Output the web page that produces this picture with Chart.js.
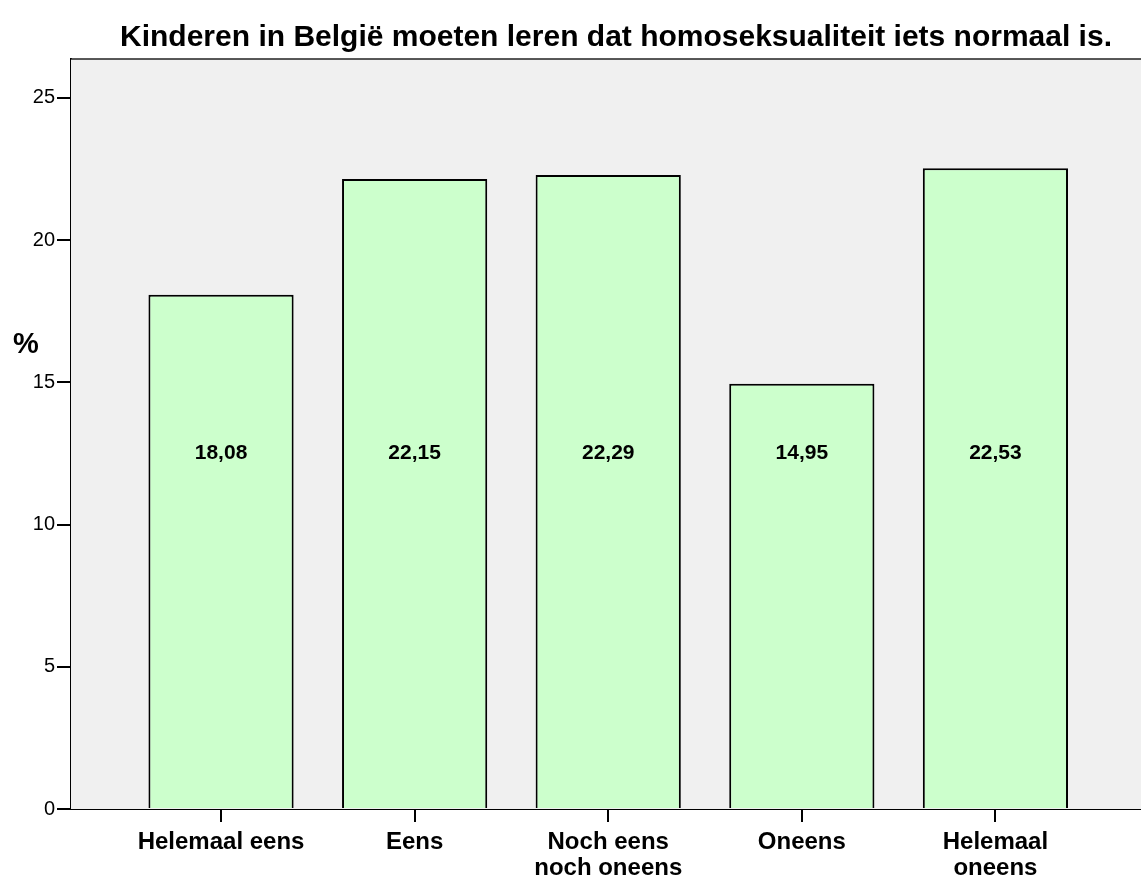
<!DOCTYPE html>
<html>
<head>
<meta charset="utf-8">
<script src="https://cdn.jsdelivr.net/npm/chart.js@4/dist/chart.umd.min.js"></script>
<style>
  html, body { margin: 0; padding: 0; background: #fff; }
  #wrap { width: 1141px; height: 878px; position: relative; }
</style>
</head>
<body>
<div id="wrap"><canvas id="myChart"></canvas></div>
<script>
const chartTitle = 'Kinderen in België moeten leren dat homoseksualiteit iets normaal is.';
const categories = [
  ['Helemaal eens'],
  ['Eens'],
  ['Noch eens', 'noch oneens'],
  ['Oneens'],
  ['Helemaal', 'oneens']
];
const percents = [18.08, 22.15, 22.29, 14.95, 22.53];
const valueLabels = ['18,08', '22,15', '22,29', '14,95', '22,53'];
const yTicks = [0, 5, 10, 15, 20, 25];

const FONT = 'Arial, "Liberation Sans", Helvetica, sans-serif';

// plot background, top border, title, % label and bar value labels
const extras = {
  id: 'extras',
  beforeDatasetsDraw(chart) {
    const { ctx, chartArea: a } = chart;
    ctx.save();
    ctx.fillStyle = '#f0f0f0';
    ctx.fillRect(a.left, a.top, a.right - a.left, a.bottom - a.top);
    ctx.restore();
  },
  afterDraw(chart) {
    const { ctx, chartArea: a } = chart;
    const xs = chart.scales.x, ys = chart.scales.y;
    ctx.save();
    ctx.strokeStyle = '#222';
    ctx.lineWidth = 1.5;
    ctx.beginPath();
    ctx.moveTo(a.left, a.top);
    ctx.lineTo(a.right, a.top);
    ctx.stroke();

    ctx.fillStyle = '#000';
    ctx.textAlign = 'center';
    ctx.textBaseline = 'alphabetic';
    ctx.font = 'bold 30px ' + FONT;
    ctx.fillText(chartTitle, 616, 46);

    ctx.font = 'bold 29px ' + FONT;
    ctx.textBaseline = 'middle';
    ctx.fillText('%', 26, 345);

    ctx.font = 'bold 21px ' + FONT;
    percents.forEach((v, i) => {
      ctx.fillText(valueLabels[i], xs.getPixelForValue(i + 1), ys.getPixelForValue(12.5));
    });
    ctx.restore();
  }
};

const ctx = document.getElementById('myChart').getContext('2d');
const chart = new Chart(ctx, {
  type: 'bar',
  data: {
    datasets: [{
      data: percents.map((v, i) => ({ x: i + 1, y: v })),
      backgroundColor: '#ccffcc',
      borderColor: '#000',
      borderWidth: 2,
      barPercentage: 0.75,
      categoryPercentage: 1
    }]
  },
  options: {
    responsive: true,
    maintainAspectRatio: false,
    animation: false,
    layout: { padding: { top: 59, left: 0, right: 0, bottom: 0 } },
    plugins: {
      legend: { display: false },
      tooltip: { enabled: false },
      title: { display: false }
    },
    scales: {
      x: {
        type: 'linear',
        min: 0.225,
        max: 5.752,
        offset: false,
        grid: {
          offset: false,
          drawOnChartArea: false,
          drawTicks: true,
          tickLength: 13,
          color: '#000',
          lineWidth: 2
        },
        border: { display: true, color: '#000', width: 2 },
        ticks: {
          stepSize: 1,
          includeBounds: false,
          autoSkip: false,
          maxRotation: 0,
          padding: 7,
          color: '#000',
          font: { family: FONT, size: 24, weight: 'bold', lineHeight: 1.08 },
          callback: (v) => categories[v - 1] || ''
        },
        afterFit: (s) => { s.height = 69; }
      },
      y: {
        min: 0,
        max: 26.37,
        grid: {
          drawOnChartArea: false,
          drawTicks: true,
          tickLength: 14,
          color: '#000',
          lineWidth: 2
        },
        border: { display: true, color: '#000', width: 2 },
        afterBuildTicks: (s) => { s.ticks = yTicks.map(v => ({ value: v })); },
        ticks: {
          padding: 2,
          color: '#000',
          font: { family: FONT, size: 20 }
        },
        afterFit: (s) => { s.width = 71; }
      }
    }
  },
  plugins: [extras]
});
</script>
</body>
</html>
